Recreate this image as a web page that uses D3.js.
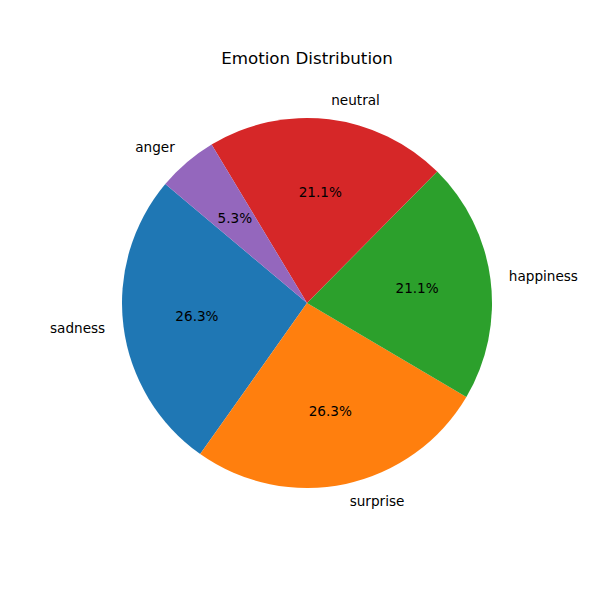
<!DOCTYPE html>
<html>
<head>
<meta charset="utf-8">
<script src="https://cdn.jsdelivr.net/npm/d3@7"></script>
<style>
body { margin: 0; background: #fff; }
svg { display: block; font-family: "DejaVu Sans", sans-serif; }
</style>
</head>
<body>
<svg id="chart" width="600" height="600"></svg>
<script>
const categories = ["sadness", "surprise", "happiness", "neutral", "anger"];
const counts = [5, 5, 4, 4, 1];
const colors = ["#1f77b4", "#ff7f0e", "#2ca02c", "#d62728", "#9467bd"];
const title = "Emotion Distribution";

const svg = d3.select("#chart");
const cx = 307, cy = 303, R = 185;
const startDeg = 140; // matplotlib startangle, counterclockwise
const a0 = (90 - startDeg) * Math.PI / 180;

const pie = d3.pie().sort(null).value(d => d.v)
  .startAngle(a0).endAngle(a0 - 2 * Math.PI);
const data = categories.map((c, i) => ({ c, v: counts[i], col: colors[i] }));
const arcs = pie(data);
const total = d3.sum(counts);

const arc = d3.arc().innerRadius(0).outerRadius(R);
const g = svg.append("g").attr("transform", `translate(${cx},${cy})`);

g.selectAll("path").data(arcs).enter().append("path")
  .attr("d", arc)
  .attr("fill", d => d.data.col);

function pos(a, r) { return [r * Math.sin(a), -r * Math.cos(a)]; }

arcs.forEach(d => {
  const mid = (d.startAngle + d.endAngle) / 2;
  const [lx, ly] = pos(mid, 1.1 * R);
  g.append("text")
    .attr("x", lx).attr("y", ly - 1)
    .attr("text-anchor", lx > 0 ? "start" : "end")
    .attr("dominant-baseline", "central")
    .attr("font-size", "13.6px")
    .attr("fill", "#000")
    .text(d.data.c);
  const [px, py] = pos(mid, 0.6 * R);
  g.append("text")
    .attr("x", px).attr("y", py - 1)
    .attr("text-anchor", "middle")
    .attr("dominant-baseline", "central")
    .attr("font-size", "13.6px")
    .attr("fill", "#000")
    .text((d.data.v / total * 100).toFixed(1) + "%");
});

svg.append("text")
  .attr("x", cx).attr("y", 58)
  .attr("text-anchor", "middle")
  .attr("dominant-baseline", "central")
  .attr("font-size", "16.7px")
  .attr("fill", "#000")
  .text(title);
</script>
</body>
</html>
